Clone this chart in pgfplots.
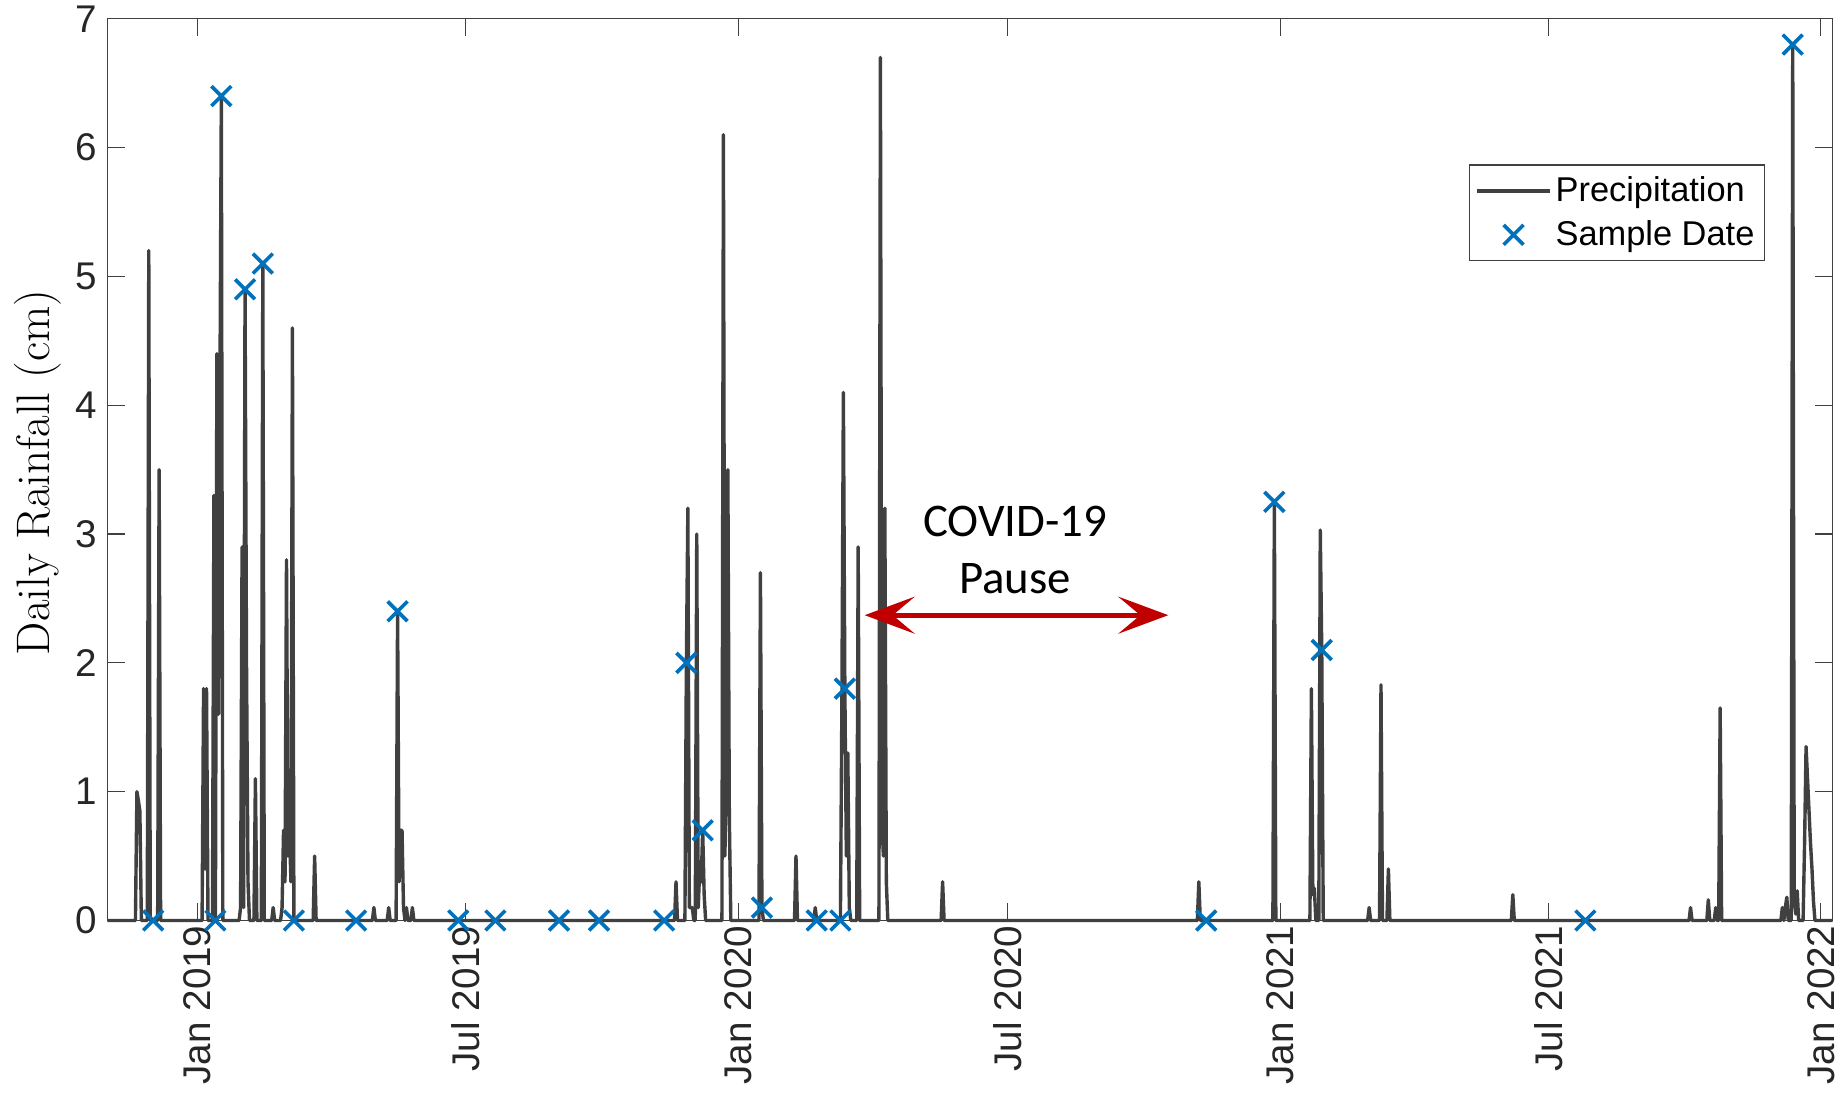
\documentclass[border=0pt]{standalone}
\usepackage{fontspec}
\usepackage{pgfplots}
\usepackage{pgfplotstable}
\pgfplotsset{compat=1.18}
\usetikzlibrary{arrows.meta}
\newfontfamily\arialfont{Liberation Sans}
\newfontfamily\calibrifont{Carlito}
\definecolor{matblue}{RGB}{0,114,189}
\definecolor{raingray}{RGB}{64,64,64}
\definecolor{covidred}{RGB}{192,0,0}

% legend pictures: a short line, and a single marker at its middle
\pgfplotsset{
  linelegend/.style={legend image code/.code={\draw[##1] (0pt,0pt) -- (36.3pt,0pt);}},
  marklegend/.style={legend image code/.code={\draw[mark repeat=2,mark phase=2,##1] plot coordinates {(0pt,0pt) (18.15pt,0pt) (36.3pt,0pt)};}},
}

% day = days since 1 Jan 2019, rain = daily precipitation (cm)
\pgfplotstableread{
day rain
-61 0
-42 0
-41 1.0
-40 0.93
-39 0.85
-38 0
-34 0
-33 5.2
-32 0
-27 0
-26 3.5
-25 0
3 0
4 1.8
5 0.4
6 1.8
7 0
10 0
11 3.3
12 0
13 4.4
14 1.6
15 4.0
16 6.4
17 0
28 0
29 0.1
30 2.9
31 0.1
32 4.9
33 2.0
34 0.3
35 0
38 0
39 1.1
40 0
43 0
44 5.1
45 0
50 0
51 0.1
52 0
56 0
57 0.1
58 0.7
59 0.3
60 2.8
61 0.5
62 0.7
63 0.3
64 4.6
65 0
78 0
79 0.5
80 0
118 0
119 0.1
120 0
128 0
129 0.1
130 0
134 0
135 2.4
136 0.3
137 0.7
138 0.7
139 0.1
140 0
141 0.1
142 0
144 0
145 0.1
146 0
322 0
323 0.3
324 0
329 0
330 2.0
331 3.2
332 0.1
333 0.1
334 0.1
335 0
336 0
337 3.0
338 0.1
339 0.4
340 0.3
341 0.7
342 0.2
343 0
354 0
355 6.1
356 0.5
357 1.2
358 3.5
359 0.8
360 0
379 0
380 2.7
381 0.1
382 0
403 0
404 0.5
405 0
416 0
417 0.1
418 0
434 0
435 1.7
436 4.1
437 1.8
438 0.5
439 1.3
440 0.1
441 0
445 0
446 2.9
447 0
460 0
461 6.7
462 0.8
463 0.5
464 3.2
465 0.3
466 0
502 0
503 0.3
504 0
675 0
676 0.3
677 0
726 0
727 3.25
728 0
751 0
752 1.8
753 0.2
754 0.25
755 0
757 0
758 3.03
759 2.1
760 0
790 0
791 0.1
792 0
798 0
799 1.83
800 0
803 0
804 0.4
805 0
887 0
888 0.2
889 0
1007 0
1008 0.1
1009 0
1019 0
1020 0.16
1021 0
1024 0
1025 0.1
1026 0
1027 0
1028 1.65
1029 0
1069 0
1070 0.1
1071 0
1072 0.1
1073 0.18
1074 0
1076 0
1077 6.8
1078 0.15
1079 0.05
1080 0.23
1081 0
1084 0
1085 0.6
1086 1.35
1087 1.1
1088 0.85
1089 0.6
1090 0.4
1091 0.15
1092 0
1104 0
}\raintable

% sampling days and the rainfall recorded on them
\pgfplotstableread{
day rain
-30 0
12 0
16 6.4
32 4.9
44 5.1
65 0
107 0
135 2.4
176 0
201 0
244 0
271 0
315 0
330 2.0
341 0.7
381 0.1
418 0
434 0
437 1.8
681 0
727 3.25
759 2.1
937 0
1077 6.8
}\sampletable

\begin{document}
\begin{tikzpicture}
\begin{axis}[
  scale only axis,
  width=862.7pt, height=450.85pt,
  xmin=-61, xmax=1104, ymin=0, ymax=7,
  clip=false,
  xtick={0,181,365,547,731,912,1096},
  xticklabels={Jan 2019,Jul 2019,Jan 2020,Jul 2020,Jan 2021,Jul 2021,Jan 2022},
  ytick={0,1,2,3,4,5,6,7},
  /pgf/number format/assume math mode=true,
  ticklabel style={font=\arialfont\fontsize{19.3pt}{22pt}\selectfont, text=black!85},
  xticklabel style={rotate=90, anchor=east, xshift=1pt},
  yticklabel style={xshift=-1.5pt},
  tick align=inside,
  major tick length=8.8pt,
  tick style={draw=black!75, line width=0.6pt},
  axis line style={draw=black!75, line width=0.6pt},
  ylabel={Daily Rainfall (cm)},
  ylabel style={at={(axis description cs:-0.0405,0.497)}, anchor=center,
    font=\fontsize{23.5pt}{28pt}\selectfont},
  legend style={at={(0.7892,0.8386)}, anchor=north west,
    draw=black!75, line width=0.6pt,
    font=\arialfont\fontsize{17.2pt}{20pt}\selectfont,
    inner xsep=3pt, inner ysep=4pt, row sep=4pt,
    /tikz/every even column/.append style={column sep=2pt}},
  legend cell align=left,
]
\addplot[draw=raingray, line width=1.7pt, line join=round, no markers, linelegend]
  table[x=day, y=rain] {\raintable};
\addlegendentry{Precipitation}
\addplot[only marks, mark=x, mark size=7pt,
  mark options={draw=matblue, line width=1.8pt}, marklegend]
  table[x=day, y=rain] {\sampletable};
\addlegendentry{Sample Date}

\draw[draw=covidred, fill=covidred, line width=2.4pt,
  {Stealth[length=25pt,width=18.5pt,inset=11pt]}-{Stealth[length=25pt,width=18.5pt,inset=11pt]}]
  (axis cs:450.4,2.37) -- (axis cs:655.4,2.37);
\node[font=\calibrifont\fontsize{23.4pt}{28pt}\selectfont, anchor=base, inner sep=0pt]
  at (axis cs:552,2.98) {COVID-19};
\node[font=\calibrifont\fontsize{23.4pt}{28pt}\selectfont, anchor=base, inner sep=0pt]
  at (axis cs:552,2.54) {Pause};
\end{axis}
\pgfresetboundingbox
\path[use as bounding box]
  ([shift={(-53.65pt,-87.75pt)}]current axis.south west) rectangle
  ([shift={(4.15pt,9.4pt)}]current axis.north east);
\end{tikzpicture}
\end{document}
